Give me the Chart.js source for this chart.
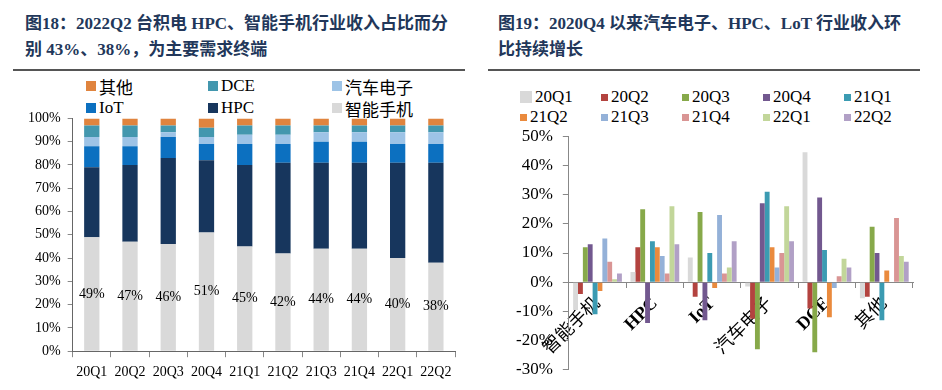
<!DOCTYPE html>
<html>
<head>
<meta charset="utf-8">
<script src="https://cdn.jsdelivr.net/npm/chart.js@4.4.1/dist/chart.umd.min.js"></script>
<style>
  body { margin: 0; background: #fff; width: 942px; height: 390px; position: relative; overflow: hidden;
         font-family: "Liberation Serif", "Noto Sans CJK SC", serif; }
  .title { position: absolute; color: #22375a; font-weight: bold; font-size: 17px; line-height: 26px; white-space: nowrap; }
  .rule { position: absolute; top: 69px; height: 2px; background: #555; }
  .legend { position: absolute; display: grid; color: #000; }
  .legend div { display: flex; align-items: center; white-space: nowrap; }
  .legend span { display: inline-block; margin-right: 3px; }
  canvas { position: absolute; }
</style>
</head>
<body>
<div class="title" style="left:25px;top:11px">图18：2022Q2 台积电 HPC、智能手机行业收入占比而分<br>别 43%、38%，为主要需求终端</div>
<div class="title" style="left:498px;top:11px">图19：2020Q4 以来汽车电子、HPC、LoT 行业收入环<br>比持续增长</div>
<div class="rule" style="left:13px;width:452px"></div>
<div class="rule" style="left:488px;width:432px"></div>

<div id="legendL" class="legend" style="left:86px;top:75px;grid-template-columns:122px 124px auto;grid-auto-rows:22px;font-size:17px"></div>
<div id="legendR" class="legend" style="left:520px;top:87px;grid-template-columns:repeat(5,81px);grid-auto-rows:20px;font-size:17px"></div>

<canvas id="left" width="470" height="287" style="left:0;top:103px"></canvas>
<canvas id="right" width="472" height="274" style="left:470px;top:116px"></canvas>

<script>
// 图18 数据：季度 & 各业务占比(%)
const quarters = ["20Q1","20Q2","20Q3","20Q4","21Q1","21Q2","21Q3","21Q4","22Q1","22Q2"];
const phone = [49, 47, 46, 51, 45, 42, 44, 44, 40, 38];
const hpc   = [30, 33, 37, 31, 35, 39, 37, 37, 41, 43];
const iot   = [9, 8, 9, 7, 9, 8, 9, 9, 8, 8];
const auto  = [4, 4, 2, 3, 4, 4, 4, 4, 5, 5];
const dce   = [5, 5, 3, 4, 4, 4, 3, 3, 3, 3];
const other = [3, 3, 3, 4, 3, 3, 3, 3, 3, 3];
const shareTicks = [0, 10, 20, 30, 40, 50, 60, 70, 80, 90, 100];

// 图19 数据：各业务环比增速(%)
const segments = ["智能手机", "HPC", "IoT", "汽车电子", "DCE", "其他"];
const q20Q1 = [-9.5, 3.5, 8.5, -1.5, 44.5, -5.5];
const q20Q2 = [-4, 12, -5, -12.5, -9, -5];
const q20Q3 = [12, 25, 24, -23, -24, 19];
const q20Q4 = [13, -14, -13, 27, 29, 10];
const q21Q1 = [-11, 14, 10, 31, 11, -13];
const q21Q2 = [-3, 12, -2, 12, -12, 4];
const q21Q3 = [15, 9, 23, 5, -2, 0];
const q21Q4 = [7, 3, 3, 10, 2, 22];
const q22Q1 = [1, 26, 5, 26, 8, 9];
const q22Q2 = [3, 13, 14, 14, 5, 7];
const growthTicks = [-30, -20, -10, 0, 10, 20, 30, 40, 50];

const serif = "'Liberation Serif', 'Noto Sans CJK SC', serif";

// 智能手机占比标在灰色柱子中间
const phoneLabels = {
  id: "phoneLabels",
  afterDatasetsDraw(chart) {
    const ctx = chart.ctx;
    const meta = chart.getDatasetMeta(0);
    ctx.save();
    ctx.font = "14px " + serif;
    ctx.fillStyle = "#000";
    ctx.textAlign = "center";
    ctx.textBaseline = "middle";
    meta.data.forEach((bar, i) => {
      ctx.fillText(phone[i] + "%", bar.x, (bar.y + bar.base) / 2);
    });
    ctx.restore();
  }
};

const leftChart = new Chart(document.getElementById("left"), {
  type: "bar",
  data: {
    labels: quarters,
    datasets: [
      { label: "智能手机", data: phone, backgroundColor: "#d9d9d9" },
      { label: "HPC", data: hpc, backgroundColor: "#17365d" },
      { label: "IoT", data: iot, backgroundColor: "#0c70c0" },
      { label: "汽车电子", data: auto, backgroundColor: "#9dc3e6" },
      { label: "DCE", data: dce, backgroundColor: "#4397ae" },
      { label: "其他", data: other, backgroundColor: "#e0843e" }
    ]
  },
  options: {
    responsive: false,
    animation: false,
    layout: { padding: { left: 21, right: 15, top: 0, bottom: 2 } },
    datasets: { bar: { barPercentage: 0.4, categoryPercentage: 1 } },
    plugins: { legend: { display: false }, tooltip: { enabled: false } },
    scales: {
      x: {
        stacked: true,
        grid: { offset: true, drawOnChartArea: false, tickLength: 6, color: "#888" },
        border: { color: "#666" },
        ticks: { color: "#000", font: { family: serif, size: 14 }, padding: 7, maxRotation: 0 }
      },
      y: {
        stacked: true,
        min: 0, max: 100,
        afterBuildTicks: s => { s.ticks = shareTicks.map(v => ({ value: v })); },
        grid: { drawOnChartArea: false, tickLength: 5, color: "#888" },
        border: { color: "#666" },
        ticks: { color: "#000", font: { family: serif, size: 14 }, padding: 7, callback: v => v + "%" }
      }
    }
  },
  plugins: [phoneLabels]
});

const seriesR = [
  ["20Q1", q20Q1, "#d9d9d9"], ["20Q2", q20Q2, "#b3433f"], ["20Q3", q20Q3, "#87a94a"],
  ["20Q4", q20Q4, "#72588f"], ["21Q1", q21Q1, "#3b9bb2"], ["21Q2", q21Q2, "#ea8a3d"],
  ["21Q3", q21Q3, "#94b1d8"], ["21Q4", q21Q4, "#d99594"], ["22Q1", q22Q1, "#c2d69a"],
  ["22Q2", q22Q2, "#b1a0c6"]
];

const rightChart = new Chart(document.getElementById("right"), {
  type: "bar",
  data: {
    labels: segments,
    datasets: seriesR.map(([label, data, color]) => ({ label, data, backgroundColor: color }))
  },
  options: {
    responsive: false,
    animation: false,
    layout: { padding: { left: 36, right: 29, top: 0, bottom: 2 } },
    datasets: { bar: { barPercentage: 1, categoryPercentage: 0.85 } },
    plugins: { legend: { display: false }, tooltip: { enabled: false } },
    scales: {
      x: {
        position: { y: 0 },
        grid: { offset: true, drawOnChartArea: false, tickLength: 5, color: "#888" },
        border: { color: "#888" },
        ticks: {
          color: "#000", autoSkip: false, minRotation: 45, maxRotation: 45, padding: 6,
          font: c => ({ family: serif, size: 18, weight: /[A-Za-z]/.test(segments[c.index]) ? "bold" : "normal" })
        }
      },
      y: {
        min: -30, max: 50,
        afterBuildTicks: s => { s.ticks = growthTicks.map(v => ({ value: v })); },
        grid: { drawOnChartArea: false, tickLength: 6, color: "#888" },
        border: { color: "#888" },
        ticks: { color: "#000", font: { family: serif, size: 17 }, padding: 10, callback: v => v + "%" }
      }
    }
  }
});

// HTML 图例
function buildLegend(el, items, boxSize) {
  items.forEach((it, i) => {
    const d = document.createElement("div");
    const b = document.createElement("span");
    const s = boxSize(i);
    b.style.width = s + "px";
    b.style.height = s + "px";
    b.style.background = it.color;
    d.appendChild(b);
    d.appendChild(document.createTextNode(it.label));
    el.appendChild(d);
  });
}
buildLegend(document.getElementById("legendL"),
  leftChart.data.datasets.slice().reverse().map(d => ({ label: d.label, color: d.backgroundColor })),
  () => 10);
buildLegend(document.getElementById("legendR"),
  rightChart.data.datasets.map(d => ({ label: d.label, color: d.backgroundColor })),
  i => i === 0 ? 12 : 7);
</script>
</body>
</html>
